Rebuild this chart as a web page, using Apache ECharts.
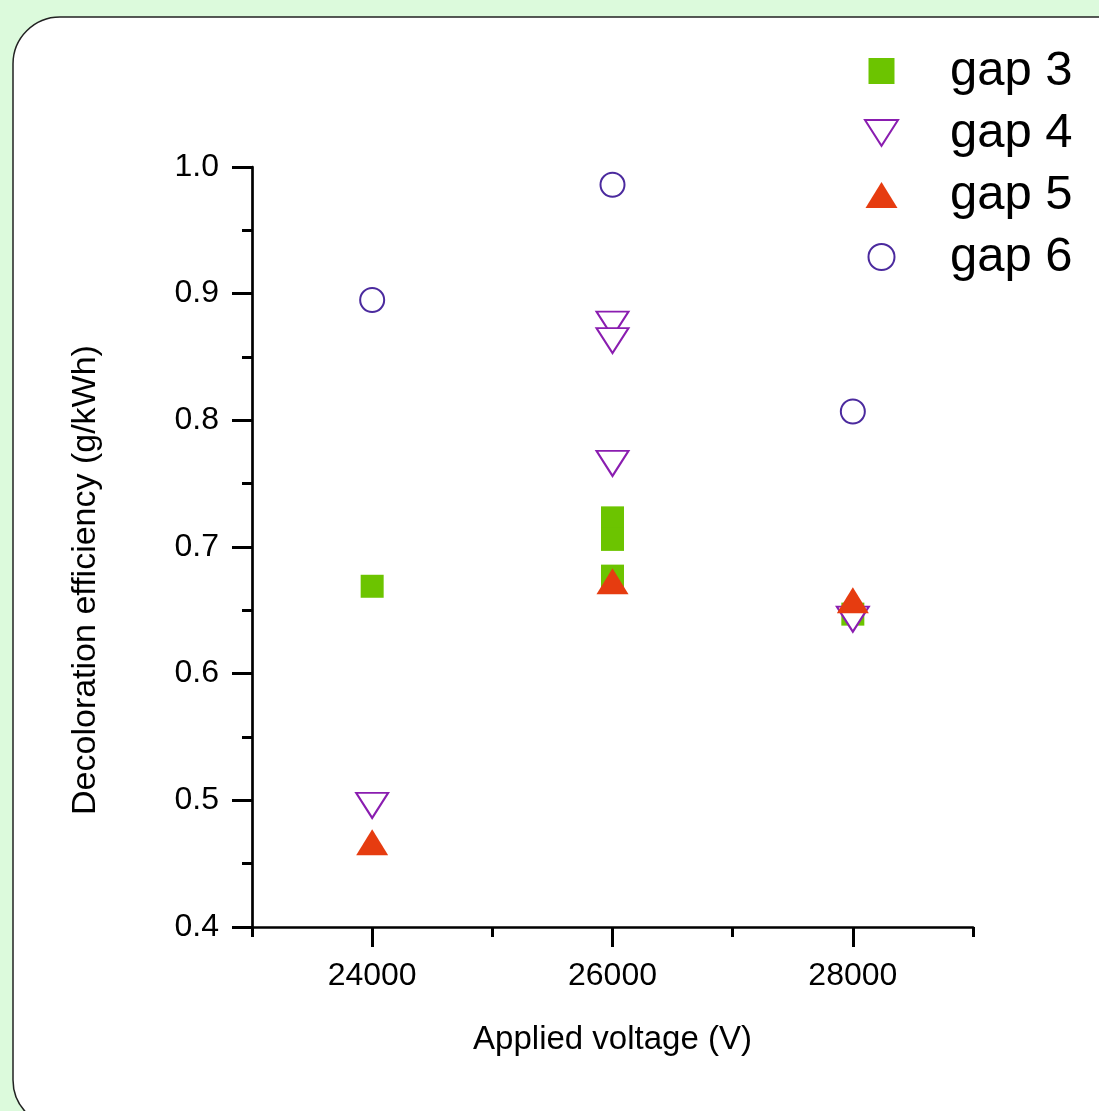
<!DOCTYPE html>
<html>
<head>
<meta charset="utf-8">
<script src="https://cdn.jsdelivr.net/npm/echarts@6/dist/echarts.min.js"></script>
<style>
  html, body { margin: 0; padding: 0; background: #dcfadc; }
  #chart { width: 1099px; height: 1111px; }
</style>
</head>
<body>
<div id="chart"></div>
<script>
// Decoloration efficiency versus applied voltage, one series per electrode gap
const seriesNames = ['gap 3', 'gap 4', 'gap 5', 'gap 6'];

const gap3 = [[24000, 0.669], [26000, 0.723], [26000, 0.706], [26000, 0.677], [28000, 0.647]];
const gap4 = [[24000, 0.496], [26000, 0.876], [26000, 0.863], [26000, 0.766], [28000, 0.643]];
const gap5 = [[24000, 0.467], [26000, 0.673], [28000, 0.658]];
const gap6 = [[24000, 0.895], [26000, 0.986], [28000, 0.807]];

const xMajorTicks = [24000, 26000, 28000];
const xMinorTicks = [23000, 25000, 27000, 29000];

const FONT = '"Liberation Sans", Arial, sans-serif';
const SQUARE = 'path://M0,0L24,0L24,24L0,24Z';
const DOWN_TRI = 'path://M0,0L32,0L16,25Z';
const UP_TRI = 'path://M16,0L32,26L0,26Z';

const chart = echarts.init(document.getElementById('chart'), null, { renderer: 'canvas' });

const axisLine = { show: true, lineStyle: { color: '#000', width: 2.7 } };

chart.setOption({
  backgroundColor: '#dcfadc',
  animation: false,
  graphic: [{
    type: 'rect',
    z: -10,
    shape: { x: 13, y: 17, width: 1200, height: 1110, r: 47 },
    style: { fill: '#ffffff', stroke: '#222222', lineWidth: 1.5 }
  }],
  grid: { left: 252, right: 126, top: 167, bottom: 184 },
  legend: {
    orient: 'vertical',
    left: 864,
    top: 46,
    padding: 0,
    itemWidth: 33,
    itemHeight: 26,
    itemGap: 12,
    symbolKeepAspect: true,
    textStyle: { fontFamily: FONT, fontSize: 49, color: '#000', lineHeight: 50, padding: [0, 0, 0, 47] },
    data: [
      { name: seriesNames[0], icon: SQUARE },
      { name: seriesNames[1], icon: DOWN_TRI },
      { name: seriesNames[2], icon: UP_TRI },
      { name: seriesNames[3], icon: 'circle' }
    ]
  },
  xAxis: [{
    type: 'value',
    min: 23000,
    max: 29000,
    splitLine: { show: false },
    axisLine: axisLine,
    axisTick: { show: true, customValues: xMajorTicks, length: 20, lineStyle: { color: '#000', width: 3 } },
    axisLabel: {
      customValues: xMajorTicks, margin: 33, fontFamily: FONT, fontSize: 32, color: '#000',
      formatter: v => String(v)
    },
    name: 'Applied voltage (V)',
    nameLocation: 'middle',
    nameGap: 96,
    nameTextStyle: { fontFamily: FONT, fontSize: 33, color: '#000' }
  }, {
    type: 'value',
    position: 'bottom',
    min: 23000,
    max: 29000,
    splitLine: { show: false },
    axisLine: { show: false },
    axisTick: { show: true, customValues: xMinorTicks, length: 10, lineStyle: { color: '#000', width: 3 } },
    axisLabel: { show: false }
  }],
  yAxis: {
    type: 'value',
    min: 0.4,
    max: 1.0,
    interval: 0.1,
    splitLine: { show: false },
    axisLine: axisLine,
    axisTick: { show: true, length: 20, lineStyle: { color: '#000', width: 3 } },
    minorTick: { show: true, splitNumber: 2, length: 10, lineStyle: { color: '#000', width: 3 } },
    axisLabel: {
      margin: 33, fontFamily: FONT, fontSize: 32, color: '#000',
      formatter: v => v.toFixed(1)
    },
    name: 'Decoloration efficiency (g/kWh)',
    nameLocation: 'middle',
    nameGap: 149,
    nameTextStyle: { fontFamily: FONT, fontSize: 34, color: '#000', padding: [0, 66, 0, 0] }
  },
  series: [{
    name: seriesNames[0],
    type: 'scatter',
    data: gap3,
    symbol: 'rect',
    symbolSize: 23,
    itemStyle: { color: '#6cc400', opacity: 1 }
  }, {
    name: seriesNames[1],
    type: 'scatter',
    data: gap4,
    symbol: DOWN_TRI,
    symbolSize: [32, 25],
    itemStyle: { color: '#ffffff', borderColor: '#8a1db0', borderWidth: 2, opacity: 1 }
  }, {
    name: seriesNames[2],
    type: 'scatter',
    data: gap5,
    symbol: UP_TRI,
    symbolSize: [32, 26],
    itemStyle: { color: '#e63c10', opacity: 1 }
  }, {
    name: seriesNames[3],
    type: 'scatter',
    data: gap6,
    symbol: 'circle',
    symbolSize: 24,
    itemStyle: { color: '#ffffff', borderColor: '#4b2a9e', borderWidth: 2, opacity: 1 }
  }]
});
</script>
</body>
</html>
